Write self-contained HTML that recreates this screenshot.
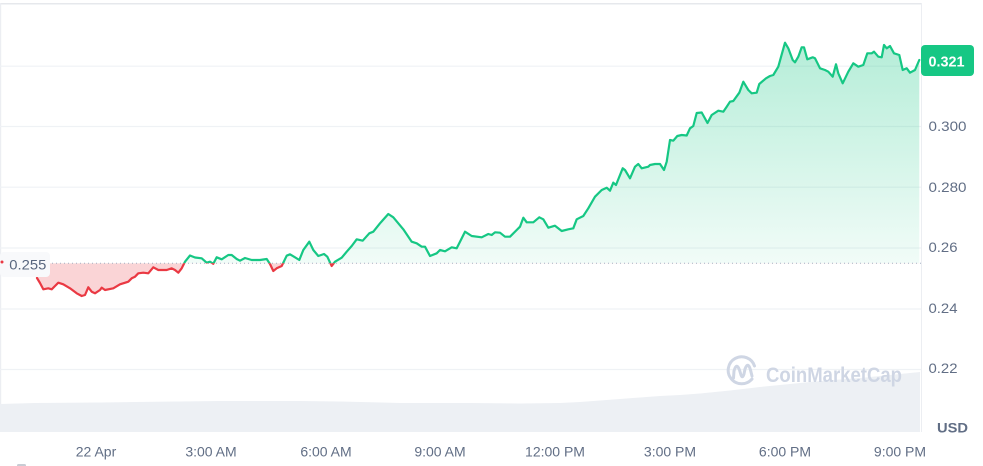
<!DOCTYPE html>
<html><head><meta charset="utf-8"><style>
html,body{margin:0;padding:0;background:#fff;}
svg{display:block;}
text{font-family:"Liberation Sans",Arial,sans-serif;}
</style></head><body>
<svg width="983" height="466" viewBox="0 0 983 466" xmlns="http://www.w3.org/2000/svg">
<defs>
<linearGradient id="gg" x1="0" y1="40" x2="0" y2="263" gradientUnits="userSpaceOnUse">
<stop offset="0" stop-color="#16c784" stop-opacity="0.32"/>
<stop offset="1" stop-color="#16c784" stop-opacity="0.06"/>
</linearGradient>
<clipPath id="up"><rect x="0" y="0" width="921" height="263.3"/></clipPath>
<clipPath id="dn"><rect x="0" y="263.3" width="921" height="200"/></clipPath>
<polygon id="area" points="37,278 40,283 43.3,289.3 48.3,288.3 51.7,289.3 55,286 58.3,282.7 63.3,284.3 70,288.3 76.7,293.3 81.7,296 85,295 88.3,287.3 91.7,291.7 95,293.3 100,290 101.7,287.7 105,290 113.3,288.3 120,284.3 128.3,281.7 131.7,278.3 135,276.7 138.3,273.3 143.3,272.7 148.3,273.3 153.3,267.3 158.3,270 166.7,270 171.7,268.3 175,270 178.3,272.7 181.7,268.3 185,261.7 190,255.5 195,257.5 201.7,258.3 206.7,262.7 210,261.7 213.3,263.8 216.7,257.3 221.7,259.3 228.3,255 231.7,255 236.7,259 240,260.7 245,258 251.7,260 260,260 266.7,259 270,264 273.3,271 276.7,268.3 281.7,266 286.7,255.7 290,254.3 295,257.3 299.3,260 303.3,250 309.3,241.7 313.3,250 318.3,256 324,254 327.3,256.7 331.7,266 335,261.7 341.7,257.7 346.7,251.7 351.7,246 356.7,239.3 362.7,240.7 369.3,233.3 373.3,231.7 380,223.3 388.3,214 393.3,217.3 403.3,229.3 411.7,241.7 416.7,243.3 421.7,246.7 425,246.7 430,256 436.7,253.3 440,250 445,251.3 451.7,247.3 456.7,248.3 460,241.7 465,231.7 471.7,236 481.7,237.3 488.3,234 491.7,235 495,232.3 500,232.7 505,236.7 510,236.7 516.7,230 520,226.7 523.3,217.7 526.7,222.3 533.3,222.3 539.3,217.3 543.3,219.3 548.3,227.7 555,225.7 561.7,231 568.3,229.3 573.3,228.3 576.7,219.3 583.3,216 588.3,208.3 595,196.7 601.7,190 606.7,187.7 610,190.7 613.3,182.7 616,185 622.7,168.3 625,170 630,178.3 635,166.7 638.3,164 641.7,168.3 648.3,166.7 650,165 655,164 660,164 664,170 666.7,161.7 670,140 673.3,140.7 677.3,136 681.7,135 686.7,135.5 690,128.3 693.3,126 696.7,113 701.7,112.5 707.5,123 711.7,115 718.3,110.7 723.3,111.7 726.7,106.7 730,101.7 733.3,101 739.3,92.7 743.3,81.7 748.3,90 751.7,93.3 756.7,92.7 759.3,84 766,78.3 770,76 773.3,75 778.3,66.7 785,42.7 788.3,48.3 792.7,60 795,62.3 798.3,56.7 801.7,47.3 804,47.3 807.3,59.3 812.7,57.3 815,58.3 820,68.3 825,70 828.3,71.7 832.7,76.7 836,64.3 838.3,73.3 842.7,83.3 848.3,71.7 853.3,63.3 858.3,66.7 863.3,65 867.3,53.3 871.7,53.3 874,51.7 878.3,56.7 881.7,57.3 884,45 886.7,48.3 890,46 894,53.3 899.3,55 902.7,70 906.7,68.3 910,72.7 915,70 919.3,60 919.3,263.3 37,263.3"/>
<polyline id="ln" points="37,278 40,283 43.3,289.3 48.3,288.3 51.7,289.3 55,286 58.3,282.7 63.3,284.3 70,288.3 76.7,293.3 81.7,296 85,295 88.3,287.3 91.7,291.7 95,293.3 100,290 101.7,287.7 105,290 113.3,288.3 120,284.3 128.3,281.7 131.7,278.3 135,276.7 138.3,273.3 143.3,272.7 148.3,273.3 153.3,267.3 158.3,270 166.7,270 171.7,268.3 175,270 178.3,272.7 181.7,268.3 185,261.7 190,255.5 195,257.5 201.7,258.3 206.7,262.7 210,261.7 213.3,263.8 216.7,257.3 221.7,259.3 228.3,255 231.7,255 236.7,259 240,260.7 245,258 251.7,260 260,260 266.7,259 270,264 273.3,271 276.7,268.3 281.7,266 286.7,255.7 290,254.3 295,257.3 299.3,260 303.3,250 309.3,241.7 313.3,250 318.3,256 324,254 327.3,256.7 331.7,266 335,261.7 341.7,257.7 346.7,251.7 351.7,246 356.7,239.3 362.7,240.7 369.3,233.3 373.3,231.7 380,223.3 388.3,214 393.3,217.3 403.3,229.3 411.7,241.7 416.7,243.3 421.7,246.7 425,246.7 430,256 436.7,253.3 440,250 445,251.3 451.7,247.3 456.7,248.3 460,241.7 465,231.7 471.7,236 481.7,237.3 488.3,234 491.7,235 495,232.3 500,232.7 505,236.7 510,236.7 516.7,230 520,226.7 523.3,217.7 526.7,222.3 533.3,222.3 539.3,217.3 543.3,219.3 548.3,227.7 555,225.7 561.7,231 568.3,229.3 573.3,228.3 576.7,219.3 583.3,216 588.3,208.3 595,196.7 601.7,190 606.7,187.7 610,190.7 613.3,182.7 616,185 622.7,168.3 625,170 630,178.3 635,166.7 638.3,164 641.7,168.3 648.3,166.7 650,165 655,164 660,164 664,170 666.7,161.7 670,140 673.3,140.7 677.3,136 681.7,135 686.7,135.5 690,128.3 693.3,126 696.7,113 701.7,112.5 707.5,123 711.7,115 718.3,110.7 723.3,111.7 726.7,106.7 730,101.7 733.3,101 739.3,92.7 743.3,81.7 748.3,90 751.7,93.3 756.7,92.7 759.3,84 766,78.3 770,76 773.3,75 778.3,66.7 785,42.7 788.3,48.3 792.7,60 795,62.3 798.3,56.7 801.7,47.3 804,47.3 807.3,59.3 812.7,57.3 815,58.3 820,68.3 825,70 828.3,71.7 832.7,76.7 836,64.3 838.3,73.3 842.7,83.3 848.3,71.7 853.3,63.3 858.3,66.7 863.3,65 867.3,53.3 871.7,53.3 874,51.7 878.3,56.7 881.7,57.3 884,45 886.7,48.3 890,46 894,53.3 899.3,55 902.7,70 906.7,68.3 910,72.7 915,70 919.3,60"/>
</defs>
<rect width="983" height="466" fill="#fff"/>
<!-- frame -->
<line x1="0" y1="3.8" x2="921" y2="3.8" stroke="#e6e8ec" stroke-width="1.5"/>
<line x1="0.6" y1="3" x2="0.6" y2="432" stroke="#eceef2" stroke-width="1.2"/>
<line x1="921.5" y1="3" x2="921.5" y2="432" stroke="#eceef2" stroke-width="1"/>
<!-- grid -->
<g stroke="#eff2f5" stroke-width="1.2">
<line x1="0" y1="66.2" x2="921" y2="66.2"/>
<line x1="0" y1="126.5" x2="921" y2="126.5"/>
<line x1="0" y1="187.2" x2="921" y2="187.2"/>
<line x1="0" y1="248" x2="921" y2="248"/>
<line x1="0" y1="309" x2="921" y2="309"/>
<line x1="0" y1="369.5" x2="921" y2="369.5"/>
</g>
<!-- volume -->
<polygon fill="#edf0f4" points="0,404 35,403 100,402.5 135,402 220,401 300,401 340,401.5 400,403 470,403 520,403.5 560,403 580,402 600,400.5 620,399 640,397.5 660,396 680,395 700,393.5 730,390.5 760,387 790,384 810,382 840,379.5 860,378 890,375 920,372 920,432 0,432"/>
<!-- watermark -->
<g fill="none" stroke="#cfd6e4" stroke-width="3" stroke-linecap="round" stroke-linejoin="round">
<path d="M752,379 A13.5,13.5 0 1 1 754.5,366"/>
<path d="M733.5,378 L734,371 Q736.5,362 739.5,370 L741,375 Q742.5,379 744,374 L745,369 Q748,361 750.5,370 L752,376"/>
</g>
<text x="766" y="382" font-size="21" font-weight="bold" fill="#cfd6e4" textLength="136" lengthAdjust="spacingAndGlyphs">CoinMarketCap</text>
<!-- price fills -->
<use href="#area" fill="url(#gg)" clip-path="url(#up)"/>
<use href="#area" fill="#ea3943" fill-opacity="0.22" clip-path="url(#dn)"/>
<line x1="0" y1="263.3" x2="921" y2="263.3" stroke="#a6b0c3" stroke-width="1" stroke-dasharray="1 3"/>
<use href="#ln" fill="none" stroke="#16c784" stroke-width="2.2" stroke-linejoin="round" stroke-linecap="round" clip-path="url(#up)"/>
<use href="#ln" fill="none" stroke="#ea3943" stroke-width="2.2" stroke-linejoin="round" stroke-linecap="round" clip-path="url(#dn)"/>
<!-- baseline label -->
<rect x="0" y="252" width="50" height="25" rx="4" fill="#f8f9fb"/>
<circle cx="2" cy="262" r="1.5" fill="#ea3943"/>
<text x="9.3" y="269.3" font-size="14" fill="#58667e" textLength="37" lengthAdjust="spacingAndGlyphs">0.255</text>
<!-- price tag -->
<rect x="921" y="45" width="53" height="31" rx="4" fill="#16c784"/>
<text x="928.5" y="66.5" font-size="15" font-weight="bold" fill="#fff" textLength="36" lengthAdjust="spacingAndGlyphs">0.321</text>
<!-- y axis -->
<g font-size="14" fill="#616e85">
<text x="928.5" y="131" textLength="38" lengthAdjust="spacingAndGlyphs">0.300</text>
<text x="928.5" y="192" textLength="38" lengthAdjust="spacingAndGlyphs">0.280</text>
<text x="928.5" y="252" textLength="29" lengthAdjust="spacingAndGlyphs">0.26</text>
<text x="928.5" y="313" textLength="29" lengthAdjust="spacingAndGlyphs">0.24</text>
<text x="928.5" y="373" textLength="29" lengthAdjust="spacingAndGlyphs">0.22</text>
<text x="937" y="432.5" font-weight="bold" textLength="31" lengthAdjust="spacingAndGlyphs">USD</text>
</g>
<!-- x axis -->
<g font-size="14" fill="#616e85" text-anchor="middle">
<text x="96" y="456.5">22 Apr</text>
<text x="211" y="456.5">3:00 AM</text>
<text x="326" y="456.5">6:00 AM</text>
<text x="440" y="456.5">9:00 AM</text>
<text x="555" y="456.5">12:00 PM</text>
<text x="670" y="456.5">3:00 PM</text>
<text x="785" y="456.5">6:00 PM</text>
<text x="900" y="456.5">9:00 PM</text>
</g>
<rect x="17" y="464" width="9" height="3" rx="1.5" fill="#c8ccd4"/>
</svg>
</body></html>
